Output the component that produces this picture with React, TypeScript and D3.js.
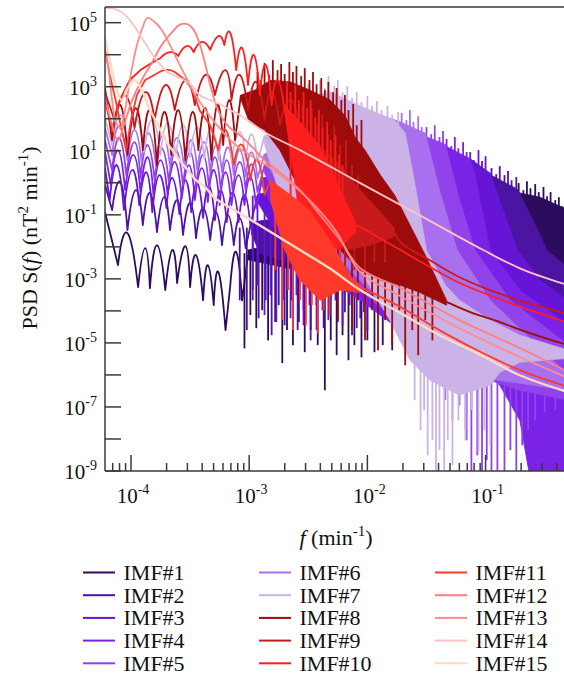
import React from 'react';
import * as d3 from 'd3';

const W = 564;
const H = 677;
const plot = { left: 105, top: 7, right: 568.3, bottom: 471 };

const imfNames = ['IMF#1', 'IMF#2', 'IMF#3', 'IMF#4', 'IMF#5', 'IMF#6', 'IMF#7', 'IMF#8',
  'IMF#9', 'IMF#10', 'IMF#11', 'IMF#12', 'IMF#13', 'IMF#14', 'IMF#15'];
const imfColors = ['#2d0c5f', '#4b14a2', '#6614d6', '#7a22e8', '#9142ea', '#a870ee', '#cbb3e8',
  '#9e0b0b', '#c81a1a', '#ff1e1e', '#ff3a2a', '#ff7e7e', '#ff8c8c', '#ffc2c2', '#ffd9c4'];

// everything below is read off the figure, as [log10 f, log10 S]
// lobes: low-frequency side lobes; upper/lower: dense noisy core; up/down: spike tips outside the core
const imf1Lobes = [[-4.22, -0.92], [-4.11, -2.57], [-4.03, -1.57], [-3.94, -3.26], [-3.88, -2.04], [-3.84, -3.29],
  [-3.78, -1.95], [-3.71, -3.35], [-3.65, -2.1], [-3.61, -3.13], [-3.54, -1.98], [-3.5, -3.26], [-3.45, -2.26],
  [-3.39, -3.67], [-3.35, -2.57], [-3.3, -3.82], [-3.26, -2.79], [-3.2, -4.6], [-3.16, -3.2], [-3.11, -2.16],
  [-3.06, -3.67], [-3.01, -2.26]];
const imf1Upper = [[-3.01, -2.1], [-2.57, -1.73], [-1.89, -1.42], [-1.05, -0.85], [-0.73, -0.3], [-0.54, -0.45],
  [-0.3, -0.85]];
const imf1Lower = [[-3.01, -2.4], [-2.57, -2.75], [-1.89, -3.2], [-1.22, -3.4], [-0.3, -3.67]];
const imf1Up = [[-0.72, -0.01], [-0.68, -0.23], [-0.65, 0.05], [-0.62, -0.17], [-0.58, -0.04], [-0.55, -0.29],
  [-0.51, -0.13], [-0.48, -0.42], [-0.45, -0.29], [-0.41, -0.54], [-0.38, -0.45], [-0.35, -0.73]];
const imf1Down = [[-3.04, -5.17], [-2.99, -4.13], [-2.94, -4.54], [-2.89, -3.98],
  [-2.84, -4.92], [-2.78, -4.35], [-2.72, -5.63], [-2.68, -4.6], [-2.63, -5.07], [-2.58, -4.35], [-2.53, -5.29],
  [-2.48, -4.6], [-2.42, -5.07], [-2.36, -6.48], [-2.31, -4.92], [-2.26, -5.38], [-2.21, -4.76], [-2.16, -5.54],
  [-2.11, -5.07], [-2.05, -5.45], [-2.0, -4.92], [-1.94, -5.29], [-1.87, -5.07], [-1.79, -5.23], [-1.72, -4.92],
  [-1.6, -5.54], [-1.46, -5.79], [-1.34, -5.23]];

const imf2Lobes = [[-4.22, -0.07], [-4.16, -0.85], [-4.09, 0.02], [-4.03, -1.48], [-3.96, -0.23], [-3.9, -1.32],
  [-3.84, -0.32], [-3.78, -1.54], [-3.72, -0.45], [-3.67, -1.48], [-3.61, -0.54], [-3.56, -1.63], [-3.5, -0.63],
  [-3.45, -1.73], [-3.39, -0.79], [-3.33, -1.79], [-3.28, -0.92], [-3.23, -1.95], [-3.18, -1.01], [-3.13, -1.95],
  [-3.08, -1.1], [-3.03, -2.04], [-2.98, -1.17]];
const imf2Upper = [[-2.98, -1.23], [-2.57, -1.01], [-1.89, -0.38], [-1.3, 0.08], [-0.96, 0.25], [-0.73, -0.2],
  [-0.62, -1.01], [-0.48, -2.1], [-0.3, -2.67]];
const imf2Lower = [[-2.98, -1.6], [-2.91, -2.2], [-2.57, -2.6], [-1.89, -3.3], [-1.13, -4.3], [-0.3, -5.3]];
const imf2Up = [[-0.95, 0.46], [-0.91, 0.27], [-0.88, 0.52], [-0.84, 0.24], [-0.81, 0.37], [-0.78, 0.08],
  [-0.74, 0.18]];
const imf2Down = [[-3.08, -3.67], [-3.02, -4.6], [-2.97, -3.35], [-2.92, -4.23], [-2.86, -3.67], [-2.81, -4.76],
  [-2.75, -3.82], [-2.7, -4.45], [-2.64, -3.67], [-2.59, -4.6], [-2.54, -3.98], [-2.48, -4.92], [-2.43, -3.82],
  [-2.37, -4.54], [-2.31, -3.67], [-2.25, -4.35], [-2.19, -4.04], [-2.13, -4.76], [-2.06, -4.23], [-2.0, -4.6]];

const imf3Lobes = [[-4.22, 0.46], [-4.18, -0.54], [-4.12, 0.55], [-4.06, -0.85], [-3.99, 0.4], [-3.93, -0.7],
  [-3.87, 0.33], [-3.82, -0.92], [-3.76, 0.24], [-3.7, -0.79], [-3.65, 0.15], [-3.59, -0.98], [-3.54, 0.08],
  [-3.49, -0.92], [-3.44, -0.01], [-3.39, -1.1], [-3.34, -0.1], [-3.29, -1.17], [-3.24, -0.23], [-3.19, -1.23],
  [-3.14, -0.29], [-3.09, -1.23], [-3.04, -0.38], [-2.99, -1.32], [-2.93, -0.42]];
const imf3Upper = [[-2.93, -0.35], [-2.57, -0.17], [-1.89, 0.55], [-1.39, 0.77], [-1.13, 0.75], [-0.96, 0.3],
  [-0.88, -0.54], [-0.73, -2.1], [-0.54, -3.04], [-0.3, -3.67]];
const imf3Lower = [[-2.93, -0.6], [-2.57, -2.73], [-1.89, -3.67], [-1.22, -4.92], [-0.3, -5.85]];
const imf3Up = [[-1.13, 0.96], [-1.1, 0.71], [-1.06, 1.02], [-1.03, 0.68], [-1.0, 0.83]];
const imf3Down = [[-2.97, -3.67], [-2.93, -3.2], [-2.87, -4.13], [-2.82, -3.51], [-2.77, -4.35], [-2.71, -3.67],
  [-2.65, -4.23], [-2.6, -3.51], [-2.54, -4.45], [-2.49, -3.82], [-2.43, -4.6], [-2.38, -3.98], [-2.33, -4.29],
  [-2.27, -3.67], [-2.21, -4.45], [-2.15, -3.82], [-2.09, -4.54], [-2.03, -4.04]];

const imf4Lobes = [[-4.22, 0.96], [-4.17, -0.07], [-4.11, 1.02], [-4.05, -0.23], [-3.98, 0.87], [-3.92, -0.29],
  [-3.86, 0.8], [-3.81, -0.38], [-3.75, 0.71], [-3.69, -0.38], [-3.63, 0.65], [-3.57, -0.48], [-3.51, 0.55],
  [-3.46, -0.54], [-3.4, 0.46], [-3.35, -0.6], [-3.3, 0.4], [-3.25, -0.7], [-3.2, 0.33], [-3.15, -0.7],
  [-3.09, 0.24], [-3.04, -0.7], [-2.99, 0.18], [-2.94, -0.79], [-2.89, 0.15]];
const imf4Upper = [[-2.89, 0.15], [-2.57, 0.4], [-2.06, 1.02], [-1.56, 1.2], [-1.34, 1.15], [-1.13, 0.75],
  [-1.09, 0.24], [-0.96, -2.1], [-0.71, -3.35], [-0.3, -4.45]];
const imf4Lower = [[-2.89, -0.1], [-2.57, -2.48], [-2.06, -3.67], [-1.72, -4.6], [-1.13, -5.54], [-0.88, -6.32],
  [-0.71, -7.42], [-0.62, -9.29], [-0.3, -9.29]];
const imf4Up = [[-1.33, 1.37], [-1.29, 1.15], [-1.26, 1.43], [-1.23, 1.08], [-1.19, 1.27], [-1.16, 0.96]];

const imf5Lobes = [[-4.22, 1.33], [-4.16, 0.4], [-4.1, 1.4], [-4.04, 0.24], [-3.97, 1.27], [-3.92, 0.15],
  [-3.86, 1.18], [-3.8, 0.08], [-3.74, 1.08], [-3.68, 0.02], [-3.62, 1.02], [-3.56, -0.07], [-3.5, 0.96],
  [-3.45, -0.1], [-3.39, 0.87], [-3.34, -0.17], [-3.29, 0.8], [-3.24, -0.23], [-3.19, 0.71], [-3.14, -0.23],
  [-3.08, 0.65], [-3.03, -0.23], [-2.98, 0.58], [-2.93, -0.29], [-2.87, 0.55]];
const imf5Upper = [[-2.87, 0.55], [-2.57, 1.02], [-2.06, 1.5], [-1.72, 1.6], [-1.51, 1.45], [-1.34, 1.2],
  [-1.22, -0.54], [-1.09, -2.1], [-0.79, -3.67], [-0.3, -5.07]];
const imf5Lower = [[-2.87, 0.3], [-2.57, -1.79], [-2.06, -3.35], [-1.56, -4.92], [-1.22, -5.85], [-0.71, -6.48],
  [-0.3, -6.79]];
const imf5Up = [[-1.5, 1.74], [-1.46, 1.52], [-1.43, 1.8], [-1.39, 1.43], [-1.36, 1.62]];
const imf5Down = [[-1.16, -8.04], [-1.12, -9.29], [-1.07, -8.51], [-1.03, -9.29], [-0.99, -8.66], [-0.95, -9.29],
  [-0.9, -8.98], [-0.84, -9.29], [-0.79, -8.35], [-0.74, -9.13], [-0.69, -8.2], [-0.64, -7.73], [-0.58, -7.42],
  [-0.5, -7.17], [-0.41, -7.1]];

const imf6Lobes = [[-4.22, 1.71], [-4.16, 0.87], [-4.1, 1.77], [-4.03, 0.71], [-3.97, 1.65], [-3.91, 0.65],
  [-3.85, 1.55], [-3.79, 0.55], [-3.73, 1.49], [-3.67, 0.52], [-3.61, 1.4], [-3.55, 0.46], [-3.49, 1.33],
  [-3.44, 0.4], [-3.38, 1.27], [-3.33, 0.33], [-3.28, 1.18], [-3.23, 0.33], [-3.18, 1.11], [-3.13, 0.24],
  [-3.08, 1.02], [-3.03, 0.21], [-2.98, 0.96], [-2.93, 0.15], [-2.87, 0.9]];
const imf6Upper = [[-2.87, 0.9], [-2.57, 1.4], [-2.15, 1.96], [-1.89, 2.12], [-1.72, 1.9], [-1.51, 1.55],
  [-1.39, -0.23], [-1.24, -2.1], [-0.96, -3.67], [-0.3, -6.01]];
const imf6Lower = [[-2.87, 0.7], [-2.57, -1.17], [-1.98, -3.35], [-1.72, -4.6], [-1.39, -5.85], [-0.88, -6.17],
  [-0.3, -6.48]];
const imf6Up = [[-1.71, 2.18], [-1.67, 1.96], [-1.64, 2.27], [-1.61, 1.9], [-1.57, 2.08], [-1.54, 1.74]];
const imf6Down = [[-1.34, -6.79], [-1.28, -7.42], [-1.22, -6.95], [-1.17, -7.73], [-1.12, -7.1]];

const imf7Lobes = [[-4.22, 2.02], [-4.16, 1.18], [-4.09, 2.12], [-4.03, 1.02], [-3.96, 2.02], [-3.89, 0.96],
  [-3.82, 1.96], [-3.75, 0.87], [-3.69, 1.87], [-3.62, 0.83], [-3.56, 1.8], [-3.5, 0.8], [-3.44, 1.74],
  [-3.38, 0.77], [-3.32, 1.71], [-3.26, 0.71], [-3.2, 1.65], [-3.15, 0.71], [-3.08, 1.58], [-3.03, 0.71],
  [-2.98, 1.52], [-2.93, 0.65], [-2.87, 1.46]];
const imf7Upper = [[-2.87, 1.46], [-2.65, 2.35], [-2.4, 2.75], [-2.32, 2.85], [-2.06, 2.4], [-1.77, 1.95],
  [-1.68, 1.55], [-1.62, 0.4], [-1.5, -2.1], [-1.34, -3.2], [-1.22, -3.67], [-0.96, -4.29], [-0.71, -4.76],
  [-0.3, -5.23]];
const imf7Lower = [[-2.87, 1.2], [-2.74, -0.38], [-2.4, -1.32], [-2.06, -2.73], [-1.81, -4.29], [-1.64, -5.54],
  [-1.47, -6.17], [-1.22, -6.63], [-0.96, -6.32], [-0.88, -5.92], [-0.71, -5.6], [-0.3, -5.48]];
const imf7Up = [[-2.6, 2.9], [-2.55, 2.71], [-2.5, 3.08], [-2.45, 2.83], [-2.4, 3.21], [-2.36, 2.96], [-2.33, 3.33],
  [-2.28, 3.02], [-2.25, 3.21], [-2.21, 2.83], [-2.17, 3.02], [-2.13, 2.65], [-2.09, 2.83], [-2.05, 2.52],
  [-2.0, 2.71], [-1.96, 2.4], [-1.92, 2.55], [-1.88, 2.27], [-1.83, 2.4], [-1.79, 2.12], [-1.74, 2.21]];
const imf7Down = [[-1.6, -6.79], [-1.55, -7.73], [-1.52, -7.1], [-1.49, -8.51], [-1.45, -8.04], [-1.42, -9.29],
  [-1.39, -8.35], [-1.35, -9.13], [-1.32, -8.04], [-1.28, -8.82], [-1.23, -7.42], [-1.17, -8.04], [-1.12, -7.1],
  [-1.06, -8.41], [-1.01, -7.73], [-0.96, -8.2]];

const imf8Lobes = [[-4.22, 2.96], [-4.16, 1.33], [-4.09, 2.43], [-4.03, 0.87], [-3.96, 2.33], [-3.9, 1.02],
  [-3.84, 2.27], [-3.78, 0.55], [-3.72, 2.21], [-3.66, 0.87], [-3.6, 2.27], [-3.54, 0.71], [-3.48, 2.21],
  [-3.43, 1.02], [-3.37, 2.33], [-3.32, 0.71], [-3.27, 2.43], [-3.22, 1.18], [-3.17, 2.58], [-3.12, 1.33],
  [-3.07, 2.74]];
const imf8Upper = [[-3.07, 2.74], [-2.95, 2.9], [-2.82, 3.2], [-2.65, 3.15], [-2.49, 2.9], [-2.32, 2.6],
  [-2.19, 2.1], [-2.1, 1.4], [-2.02, 1.02], [-1.89, 0.24], [-1.77, -0.38], [-1.64, -1.32], [-1.51, -2.26],
  [-1.39, -3.2], [-1.33, -3.67]];
const imf8Lower = [[-3.07, 2.6], [-3.0, 1.9], [-2.95, 1.8], [-2.87, 1.65], [-2.74, 1.02], [-2.57, -0.23],
  [-2.4, -1.17], [-2.23, -2.1], [-2.06, -2.73], [-1.89, -3.04], [-1.72, -3.2], [-1.56, -3.42], [-1.33, -3.82]];
const imf8Up = [[-2.93, 3.46], [-2.9, 3.21], [-2.87, 3.74], [-2.83, 3.37], [-2.8, 3.83], [-2.76, 3.52],
  [-2.73, 3.71], [-2.7, 3.4], [-2.66, 3.77], [-2.63, 3.46], [-2.6, 3.65], [-2.56, 3.33], [-2.53, 3.58],
  [-2.49, 3.21], [-2.46, 3.46], [-2.43, 3.08], [-2.39, 3.27], [-2.36, 2.9], [-2.33, 3.15], [-2.29, 2.83],
  [-2.26, 2.96], [-2.22, 2.58], [-2.19, 2.74], [-2.16, 2.27], [-2.12, 2.46], [-2.09, 1.8], [-2.05, 1.96]];
const imf8Down = [[-2.32, -3.67], [-2.25, -4.29], [-2.19, -3.35], [-2.13, -4.6], [-2.08, -3.67], [-2.02, -4.92],
  [-1.96, -3.98], [-1.91, -5.23], [-1.85, -4.29], [-1.79, -5.07], [-1.73, -3.98], [-1.68, -5.7], [-1.62, -4.6],
  [-1.57, -5.38], [-1.51, -4.29], [-1.45, -4.92]];
const imf8Tail = [[-1.33, -3.72], [-1.13, -4.04], [-0.88, -4.35], [-0.62, -4.7], [-0.3, -5.07]];

const imf9Lobes = [[-4.22, 2.83], [-4.14, 1.96], [-4.05, 2.74], [-3.97, 1.71], [-3.88, 2.83], [-3.8, 1.96],
  [-3.71, 3.05], [-3.63, 2.27], [-3.54, 3.21], [-3.46, 2.43], [-3.37, 3.37], [-3.29, 2.74], [-3.2, 3.52],
  [-3.15, 2.58], [-3.08, 3.37], [-3.01, 2.27], [-2.94, 3.15], [-2.87, 1.96], [-2.81, 2.83], [-2.74, 1.8],
  [-2.65, 2.58], [-2.57, 1.65]];
const imf9Upper = [[-2.57, 1.65], [-2.4, 1.18], [-2.23, 0.55], [-2.06, -0.23], [-1.89, -0.92], [-1.77, -1.42]];
const imf9Lower = [[-2.57, 1.4], [-2.48, -0.8], [-2.4, -1.48], [-2.19, -2.1], [-1.98, -1.95], [-1.77, -1.67]];
const imf9Up = [[-2.55, 2.43], [-2.51, 2.02], [-2.47, 2.33], [-2.42, 1.8], [-2.38, 2.12], [-2.33, 1.49],
  [-2.28, 1.8], [-2.23, 1.18], [-2.18, 1.33], [-2.13, 0.55], [-2.08, 0.24]];
const imf9Down = [[-2.19, -3.2], [-2.11, -2.73], [-2.02, -2.88], [-1.94, -2.48], [-1.85, -2.48]];
const imf9Tail = [[-1.77, -1.55], [-1.72, -1.86], [-1.47, -2.42], [-1.22, -2.95], [-0.79, -3.58], [-0.3, -4.1]];

const imf10Lobes = [[-4.22, 2.58], [-4.16, 1.65], [-4.09, 2.62], [-4.01, 3.21], [-3.92, 3.52], [-3.84, 3.71],
  [-3.75, 3.9], [-3.67, 4.08], [-3.6, 3.96], [-3.53, 4.27], [-3.47, 4.08], [-3.4, 4.4], [-3.33, 4.15],
  [-3.26, 4.58], [-3.21, 4.3], [-3.16, 4.68], [-3.11, 3.52], [-3.06, 4.21], [-3.01, 3.05], [-2.96, 3.99],
  [-2.91, 2.74], [-2.86, 3.68], [-2.81, 2.43], [-2.76, 3.21], [-2.7, 2.27]];
const imf10Upper = [[-2.7, 2.43], [-2.57, 1.9], [-2.44, 1.33], [-2.32, 0.55], [-2.19, -0.54], [-2.1, -1.23]];
const imf10Lower = [[-2.7, 2.2], [-2.62, 0.2], [-2.57, -1.2], [-2.4, -2.1], [-2.23, -2.04], [-2.1, -1.54]];
const imf10Up = [[-2.68, 3.15], [-2.65, 2.83], [-2.61, 3.05], [-2.58, 2.58], [-2.54, 2.83], [-2.51, 2.33],
  [-2.48, 2.58], [-2.44, 2.05], [-2.41, 2.27], [-2.38, 1.71], [-2.34, 1.9], [-2.31, 1.33], [-2.27, 1.49],
  [-2.24, 0.87], [-2.21, 0.55]];
const imf10Down = [[-2.65, -1.32], [-2.59, -2.1], [-2.54, -1.95], [-2.48, -2.35], [-2.42, -2.48], [-2.35, -2.26],
  [-2.29, -2.57], [-2.23, -2.35]];
const imf10Tail = [[-2.1, -1.3], [-2.06, -1.38], [-1.72, -2.1], [-1.47, -2.63], [-1.22, -3.13], [-0.79, -3.76],
  [-0.3, -4.38]];

const imf11Lobes = [[-4.22, 4.15], [-4.18, 3.37], [-4.13, 2.58], [-4.08, 1.65], [-4.04, 1.02], [-4.0, 1.96],
  [-3.95, 2.74], [-3.88, 3.21], [-3.8, 3.37], [-3.71, 3.52], [-3.63, 3.46], [-3.54, 3.21], [-3.48, 2.9],
  [-3.42, 2.27], [-3.33, 1.8], [-3.26, 1.02], [-3.2, 1.65], [-3.13, 0.55], [-3.06, 1.18], [-2.99, 0.08],
  [-2.93, 0.71], [-2.87, -0.38], [-2.82, 0.08]];
const imf11Upper = [[-2.82, 0.08], [-2.65, -0.38], [-2.49, -0.85], [-2.32, -1.79], [-2.15, -2.88], [-2.06, -3.2]];
const imf11Lower = [[-2.82, -0.54], [-2.7, -2.1], [-2.57, -3.04], [-2.4, -3.67], [-2.23, -3.35], [-2.06, -3.42]];
const imf11Down = [[-2.78, -2.73], [-2.72, -4.29], [-2.67, -3.35], [-2.63, -4.6], [-2.57, -3.67], [-2.52, -4.45],
  [-2.47, -3.82], [-2.42, -4.7], [-2.37, -3.98], [-2.32, -4.13]];
const imf11Tail = [[-2.06, -3.25], [-1.72, -3.88], [-1.39, -4.6], [-1.07, -5.23], [-0.71, -5.85], [-0.3, -6.38]];

const imf12Line = [[-4.22, 2.68], [-4.16, 1.8], [-4.11, 1.33], [-4.06, 1.8], [-3.99, 2.58], [-3.91, 3.21],
  [-3.82, 3.77], [-3.74, 4.3], [-3.65, 4.71], [-3.59, 4.93], [-3.53, 4.96], [-3.48, 4.83], [-3.43, 4.46],
  [-3.38, 3.83], [-3.33, 3.05], [-3.28, 2.43], [-3.23, 2.02], [-3.16, 1.71], [-3.08, 1.49], [-2.99, 1.18],
  [-2.87, 0.71], [-2.74, 0.33], [-2.57, -0.23], [-2.4, -1.01], [-2.23, -1.79], [-2.06, -2.67], [-1.72, -3.29],
  [-1.22, -4.29], [-0.71, -5.16], [-0.3, -5.91]];
const imf13Line = [[-4.22, 4.3], [-4.19, 3.52], [-4.16, 2.58], [-4.13, 1.9], [-4.09, 1.71], [-4.05, 2.27],
  [-4.01, 3.21], [-3.96, 4.15], [-3.91, 4.77], [-3.86, 5.15], [-3.8, 5.02], [-3.74, 4.77], [-3.67, 4.3],
  [-3.6, 3.77], [-3.53, 3.27], [-3.47, 2.83], [-3.4, 2.43], [-3.32, 2.02], [-3.2, 1.49], [-3.08, 1.08],
  [-2.95, 0.77], [-2.82, 0.46], [-2.65, -0.01], [-2.49, -0.54], [-2.27, -1.48], [-2.06, -2.79], [-1.72, -3.54],
  [-1.22, -4.54], [-0.71, -5.44], [-0.3, -6.1]];
const imf14Line = [[-4.22, 5.46], [-4.14, 5.43], [-4.08, 5.33], [-4.01, 5.08], [-3.94, 4.71], [-3.87, 4.3],
  [-3.81, 3.96], [-3.75, 3.68], [-3.69, 3.46], [-3.62, 3.33], [-3.55, 3.21], [-3.48, 3.02], [-3.42, 2.74],
  [-3.33, 2.58], [-3.25, 2.46], [-3.16, 2.27], [-3.08, 2.12], [-2.99, 1.9], [-2.87, 1.58], [-2.57, 1.02],
  [-2.06, -0.01], [-1.56, -1.01], [-1.02, -2.1], [-0.71, -2.67], [-0.3, -3.2]];
const imf15Line = [[-4.22, 4.52], [-4.18, 3.83], [-4.13, 3.05], [-4.08, 2.58], [-4.03, 2.96], [-3.97, 3.21],
  [-3.91, 2.9], [-3.84, 2.27], [-3.77, 1.8], [-3.71, 1.33], [-3.65, 1.02], [-3.59, 0.71], [-3.52, 0.4],
  [-3.45, 0.08], [-3.37, -0.14], [-3.29, -0.48], [-3.08, -0.95], [-2.87, -1.42], [-2.57, -2.1], [-2.32, -2.67],
  [-2.06, -3.35], [-1.72, -4.07], [-1.39, -4.76], [-1.07, -5.32], [-0.71, -6.01], [-0.3, -6.54]];

type Pt = number[];
interface Spec {
  lobes: Pt[]; upper?: Pt[]; lower?: Pt[]; up?: Pt[]; down?: Pt[]; tail?: Pt[];
  smooth?: boolean; width: number;
}

const spectra: Spec[] = [
  { lobes: imf1Lobes, upper: imf1Upper, lower: imf1Lower, up: imf1Up, down: imf1Down, width: 1.8 },
  { lobes: imf2Lobes, upper: imf2Upper, lower: imf2Lower, up: imf2Up, down: imf2Down, width: 1.8 },
  { lobes: imf3Lobes, upper: imf3Upper, lower: imf3Lower, up: imf3Up, down: imf3Down, width: 1.8 },
  { lobes: imf4Lobes, upper: imf4Upper, lower: imf4Lower, up: imf4Up, width: 1.8 },
  { lobes: imf5Lobes, upper: imf5Upper, lower: imf5Lower, up: imf5Up, down: imf5Down, width: 1.8 },
  { lobes: imf6Lobes, upper: imf6Upper, lower: imf6Lower, up: imf6Up, down: imf6Down, width: 1.8 },
  { lobes: imf7Lobes, upper: imf7Upper, lower: imf7Lower, up: imf7Up, down: imf7Down, width: 1.8 },
  { lobes: imf8Lobes, upper: imf8Upper, lower: imf8Lower, up: imf8Up, down: imf8Down, tail: imf8Tail, width: 1.8 },
  { lobes: imf9Lobes, upper: imf9Upper, lower: imf9Lower, up: imf9Up, down: imf9Down, tail: imf9Tail, width: 1.8 },
  { lobes: imf10Lobes, upper: imf10Upper, lower: imf10Lower, up: imf10Up, down: imf10Down, tail: imf10Tail, width: 1.8 },
  { lobes: imf11Lobes, upper: imf11Upper, lower: imf11Lower, down: imf11Down, tail: imf11Tail, width: 1.8 },
  { lobes: imf12Line, smooth: true, width: 1.8 },
  { lobes: imf13Line, smooth: true, width: 1.8 },
  { lobes: imf14Line, smooth: true, width: 1.8 },
  { lobes: imf15Line, smooth: true, width: 2.4 },
];

const yTickExps = d3.range(-9, 6);
const yLabelExps = [-9, -7, -5, -3, -1, 1, 3, 5];
const xLabelExps = [-4, -3, -2, -1];

const font = '"Liberation Serif", "Times New Roman", serif';

// side lobes: arch through each peak, with cusps at the dips
function archPath(pts: [number, number][]) {
  let d = `M${pts[0][0]},${pts[0][1]}`;
  let i = 1;
  while (i < pts.length) {
    const prev = pts[i - 1];
    const cur = pts[i];
    const next = pts[i + 1];
    if (next && cur[1] < prev[1] && cur[1] < next[1]) {
      const cx = 2 * cur[0] - (prev[0] + next[0]) / 2;
      const cy = 2 * cur[1] - (prev[1] + next[1]) / 2;
      d += `Q${cx},${cy} ${next[0]},${next[1]}`;
      i += 2;
    } else {
      d += `L${cur[0]},${cur[1]}`;
      i += 1;
    }
  }
  return d;
}

export default function App() {
  const x = d3.scaleLog().domain([10 ** -4.22, 10 ** -0.3]).range([plot.left, plot.right]);
  const y = d3.scaleLog().domain([1e-9, 10 ** 5.49]).range([plot.bottom, plot.top]);
  const toXY = (p: Pt): [number, number] => [x(10 ** p[0]), y(10 ** p[1])];

  const smooth = d3.line<Pt>().x((p) => toXY(p)[0]).y((p) => toXY(p)[1]).curve(d3.curveCatmullRom.alpha(0.5));
  const straight = d3.line<Pt>().x((p) => toXY(p)[0]).y((p) => toXY(p)[1]);

  const edgeAt = (edge: Pt[]) =>
    d3.scaleLinear().domain(edge.map((p) => p[0])).range(edge.map((p) => p[1])).clamp(true);

  const xTicks = x.ticks().filter((t) => t >= x.domain()[0] && t <= x.domain()[1]);
  const isMajor = (t: number) => Math.abs(Math.log10(t) - Math.round(Math.log10(t))) < 1e-6;

  return (
    <svg width={W} height={H} style={{ position: 'absolute', left: 0, top: 0, background: '#fff' }}
      fontFamily={font}>
      <defs>
        <clipPath id="plotClip">
          <rect x={plot.left} y={plot.top} width={plot.right - plot.left} height={plot.bottom - plot.top} />
        </clipPath>
      </defs>
      <g clipPath="url(#plotClip)">
        {spectra.map((s, i) => {
          const c = imfColors[i];
          const upAt = s.upper ? edgeAt(s.upper) : null;
          const loAt = s.lower ? edgeAt(s.lower) : null;
          return (
            <g key={i}>
              {s.upper && s.lower && (
                <path d={straight([...s.upper, ...s.lower.slice().reverse()]) + 'Z'} fill={c}
                  stroke={c} strokeWidth={0.8} strokeLinejoin="round" />
              )}
              {s.up && upAt && s.up.map((p, k) => (
                <line key={'u' + k} x1={toXY(p)[0]} x2={toXY(p)[0]} y1={toXY(p)[1]}
                  y2={y(10 ** (upAt(p[0]) - 0.2))} stroke={c} strokeWidth={1.8} />
              ))}
              {s.down && loAt && s.down.map((p, k) => (
                <line key={'d' + k} x1={toXY(p)[0]} x2={toXY(p)[0]} y1={toXY(p)[1]}
                  y2={y(10 ** (loAt(p[0]) + 0.2))} stroke={c} strokeWidth={1.8} />
              ))}
              <path d={s.smooth ? smooth(s.lobes) || '' : archPath(s.lobes.map(toXY))} fill="none"
                stroke={c} strokeWidth={s.width} strokeLinejoin="round" />
              {s.tail && <path d={smooth(s.tail) || ''} fill="none" stroke={c} strokeWidth={1.8} />}
            </g>
          );
        })}
      </g>

      <g stroke="#3a3a3a" strokeWidth={1.5} fill="none">
        <line x1={plot.left} x2={plot.left} y1={plot.top} y2={plot.bottom} />
        <line x1={plot.left} x2={W} y1={plot.top} y2={plot.top} />
        <line x1={plot.left} x2={W} y1={plot.bottom} y2={plot.bottom} />
        {yTickExps.map((e) => (
          <line key={e} x1={plot.left} x2={plot.left + 16} y1={y(10 ** e)} y2={y(10 ** e)} />
        ))}
        {xTicks.map((t, i) => (
          <line key={i} x1={x(t)} x2={x(t)} y1={plot.bottom} y2={plot.bottom - (isMajor(t) ? 16 : 8)} />
        ))}
      </g>

      {yLabelExps.map((e) => (
        <text key={e} x={97} y={y(10 ** e) + 8} textAnchor="end" fontSize={21} fill="#111">
          10<tspan dy={-9} fontSize={14}>{e}</tspan>
        </text>
      ))}
      {xLabelExps.map((e) => (
        <text key={e} x={x(10 ** e) + 2} y={503} textAnchor="middle" fontSize={21} fill="#111">
          10<tspan dy={-9} fontSize={14}>{e}</tspan>
        </text>
      ))}

      <text x={336} y={545} textAnchor="middle" fontSize={22} fill="#111">
        <tspan fontStyle="italic">f</tspan> (min<tspan dy={-9} fontSize={15}>-1</tspan>
        <tspan dy={9}>)</tspan>
      </text>
      <text transform="translate(37,238) rotate(-90)" textAnchor="middle" fontSize={22} fill="#111">
        PSD S(<tspan fontStyle="italic">f</tspan>) (nT<tspan dy={-9} fontSize={15}>2</tspan>
        <tspan dy={9}> min</tspan><tspan dy={-9} fontSize={15}>-1</tspan><tspan dy={9}>)</tspan>
      </text>

      {imfNames.map((name, i) => {
        const col = Math.floor(i / 5);
        const row = i % 5;
        const lx = [83, 259, 435][col];
        const ly = 572.5 + row * 22.7;
        return (
          <g key={name}>
            <line x1={lx} x2={lx + 32} y1={ly} y2={ly} stroke={imfColors[i]} strokeWidth={2} />
            <text x={lx + 40.5} y={ly + 7.5} fontSize={22} fill="#111">{name}</text>
          </g>
        );
      })}
    </svg>
  );
}
